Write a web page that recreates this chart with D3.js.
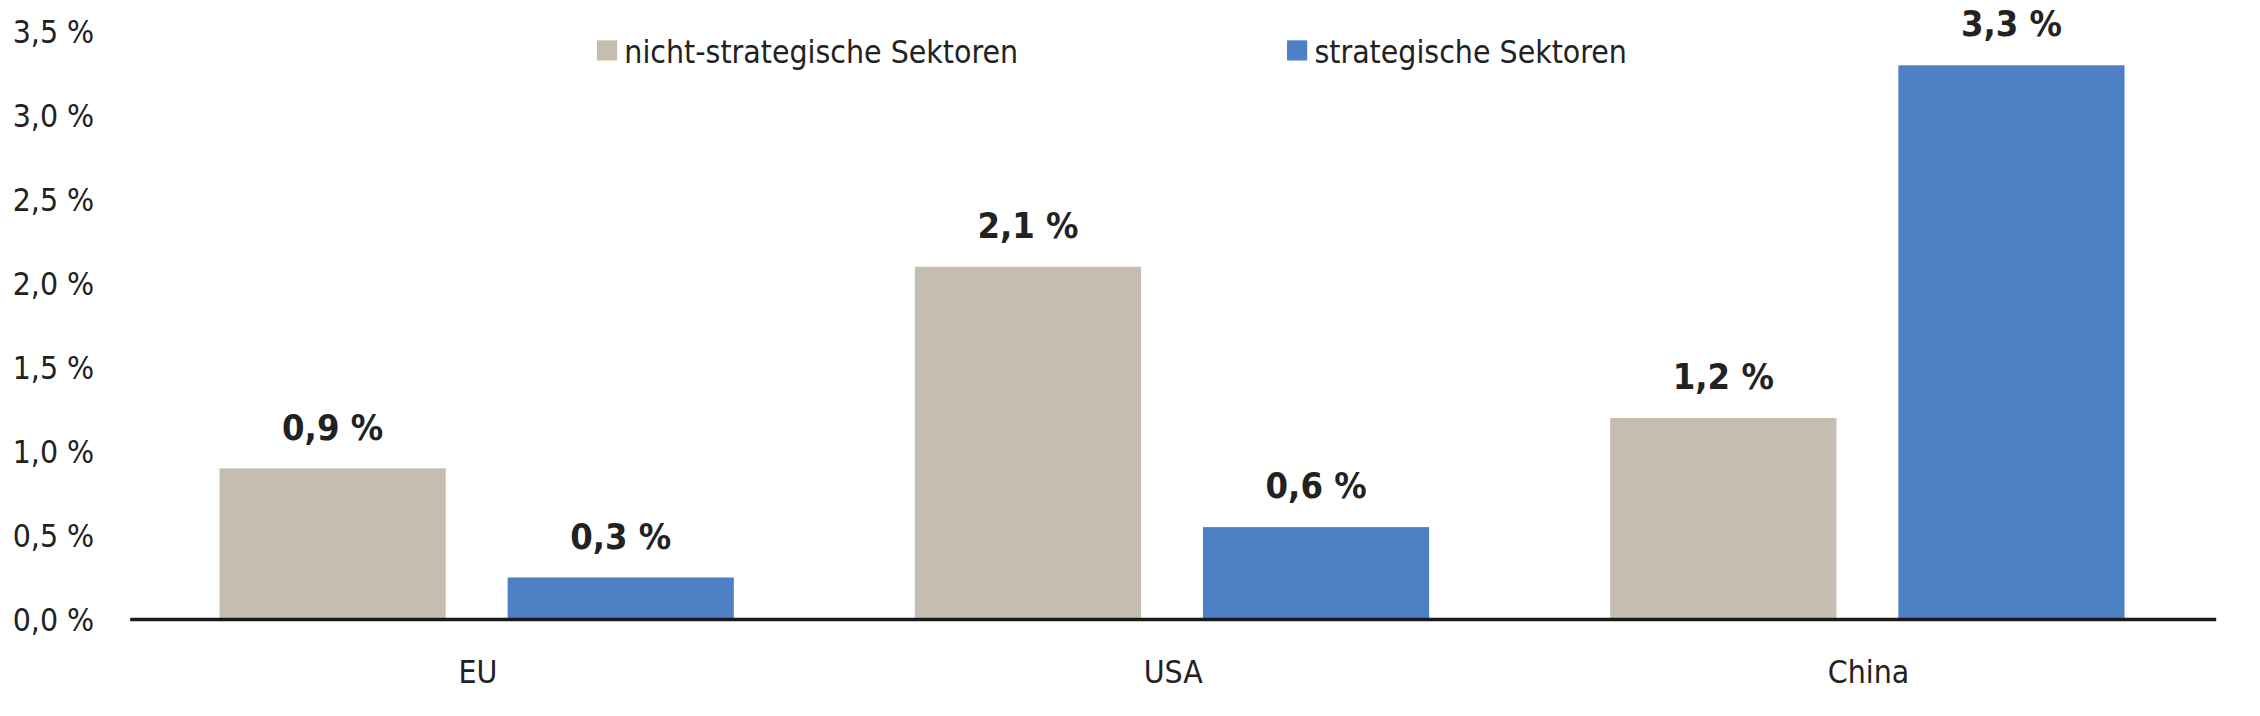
<!DOCTYPE html>
<html><head><meta charset="utf-8">
<script src="https://cdn.jsdelivr.net/npm/d3@7"></script>
<style>body{margin:0;background:#fff}text{font-family:"DejaVu Sans Condensed","Liberation Sans Narrow","DejaVu Sans",sans-serif;font-stretch:condensed;fill:#222}</style>
</head><body><svg id="c"></svg>
<script>
const categories = ["EU","USA","China"];
const seriesNames = ["nicht-strategische Sektoren","strategische Sektoren"];
const nonStrategic = [0.9, 2.1, 1.2];
const strategic = [0.25, 0.55, 3.3];
const labelsNon = ["0,9 %","2,1 %","1,2 %"];
const labelsStr = ["0,3 %","0,6 %","3,3 %"];
const yTicks = [0,0.5,1,1.5,2,2.5,3,3.5];
const colors = ["#c4bdb0","#4d80c4"];

const W=1568,H=497;
const svg=d3.select("#c").attr("width",2260).attr("height",716).attr("viewBox",`0 0 ${W} ${H}`);
const y=d3.scaleLinear().domain([0,3.5]).range([430,22]);
const x0=d3.scaleBand().domain(categories).range([90,1538]);
const x1=d3.scaleBand().domain([0,1]).range([62,419]).paddingInner(0.215);
const series=[nonStrategic,strategic], labs=[labelsNon,labelsStr];

svg.append("g").selectAll("text").data(yTicks).join("text")
 .attr("x",65).attr("y",d=>y(d)+8).attr("text-anchor","end").attr("font-size",22)
 .text(d=>d3.format(".1f")(d).replace(".",",")+" %");

series.forEach((s,si)=>{
 const g=svg.append("g");
 g.selectAll("rect").data(s).join("rect")
  .attr("x",(d,i)=>x0(categories[i])+x1(si)).attr("width",x1.bandwidth())
  .attr("y",d=>y(d)).attr("height",d=>y(0)-y(d)).attr("fill",colors[si]);
 g.selectAll("text").data(s).join("text")
  .attr("x",(d,i)=>x0(categories[i])+x1(si)+x1.bandwidth()/2).attr("y",d=>y(d)-20)
  .attr("text-anchor","middle").attr("font-size",25).attr("font-weight","bold")
  .text((d,i)=>labs[si][i]);
});

svg.append("line").attr("x1",90).attr("x2",1538).attr("y1",y(0)).attr("y2",y(0)).attr("stroke","#1a1a1a").attr("stroke-width",2.5);
svg.append("g").selectAll("text").data(categories).join("text")
 .attr("x",d=>x0(d)+x0.bandwidth()/2).attr("y",474).attr("text-anchor","middle").attr("font-size",22).text(d=>d);

const legX=[414,893];
seriesNames.forEach((n,i)=>{
 svg.append("rect").attr("x",legX[i]).attr("y",28).attr("width",14).attr("height",14).attr("fill",colors[i]);
 svg.append("text").attr("x",legX[i]+19).attr("y",44).attr("font-size",22).text(n);
});
</script></body></html>
